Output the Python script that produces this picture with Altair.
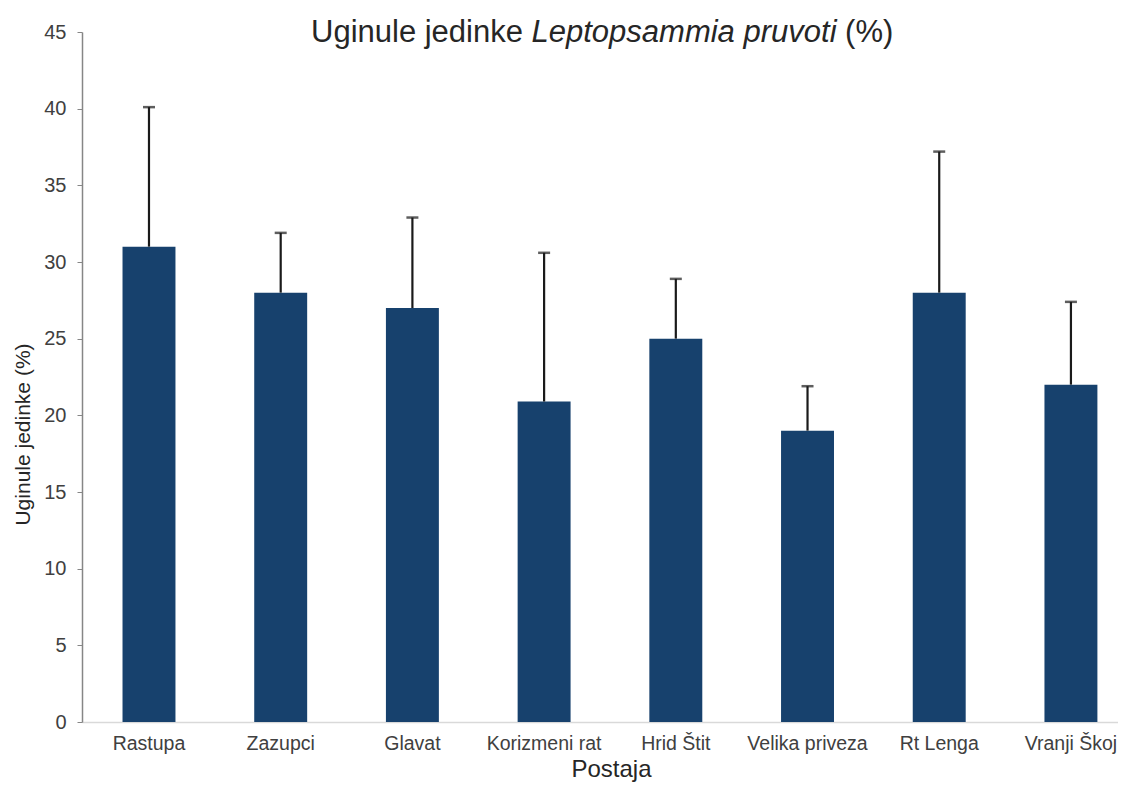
import altair as alt
import pandas as pd

stations = ["Rastupa", "Zazupci", "Glavat", "Korizmeni rat", "Hrid Štit",
            "Velika priveza", "Rt Lenga", "Vranji Škoj"]
means = [31.0, 28.0, 27.0, 20.9, 25.0, 19.0, 28.0, 22.0]
errors = [9.1, 3.9, 5.9, 9.7, 3.9, 2.9, 9.2, 5.4]
y_ticks = [0, 5, 10, 15, 20, 25, 30, 35, 40, 45]
title_normal = "Uginule jedinke"
title_italic = "Leptopsammia pruvoti"
title_end = "(%)"

df = pd.DataFrame({"Postaja": stations, "mean": means, "err": errors})
df["upper"] = df["mean"] + df["err"]

FONT = "Liberation Sans"
W, H = 1036, 690
BAR = "#17416d"
ERR = "#1a1a1a"

x_enc = alt.X(
    "Postaja:N", sort=stations,
    scale=alt.Scale(type="band", paddingInner=0.598, paddingOuter=0.232,
                    align=0.663, round=False),
    axis=alt.Axis(title="Postaja", labelAngle=0, ticks=False, labelPadding=12,
                  labelFontSize=19.5, labelFont=FONT, labelColor="#404040",
                  domainColor="#d9d9d9", domainWidth=1.5,
                  titleFont=FONT, titleFontSize=24, titleFontWeight="normal",
                  titleColor="#262626", titleX=529, titleY=54,
                  titleBaseline="alphabetic"),
)

y_enc = alt.Y(
    "mean:Q",
    scale=alt.Scale(domain=[0, 45], nice=False),
    axis=alt.Axis(values=y_ticks, title="Uginule jedinke (%)", grid=False,
                  tickSize=5, tickColor="#868686", domainColor="#868686",
                  domainWidth=1.5, labelPadding=11, labelFontSize=20,
                  labelFont=FONT, labelColor="#404040",
                  titleFont=FONT, titleFontSize=21, titleFontWeight="normal",
                  titleColor="#262626", titleX=-49, titleY=402),
)

bars = alt.Chart(df).mark_bar(color=BAR).encode(x=x_enc, y=y_enc)
rules = alt.Chart(df).mark_rule(color=ERR, strokeWidth=2.2).encode(
    x=alt.X("Postaja:N", sort=stations), y="mean:Q", y2="upper:Q")
caps = alt.Chart(df).mark_tick(color=ERR, thickness=2.5, size=12).encode(
    x=alt.X("Postaja:N", sort=stations), y="upper:Q")

TF = 31
em_normal = 7.114  # "Uginule jedinke " width in em (Arial metrics)
em_italic = 10.115  # "Leptopsammia pruvoti " width in em
x0 = 229
t1 = alt.Chart(pd.DataFrame({"t": [title_normal]})).mark_text(
    font=FONT, fontSize=TF, align="left", baseline="alphabetic", color="#262626"
).encode(text="t:N", x=alt.value(x0), y=alt.value(10))
t2 = alt.Chart(pd.DataFrame({"t": [title_italic]})).mark_text(
    font=FONT, fontSize=TF, fontStyle="italic", align="left",
    baseline="alphabetic", color="#262626"
).encode(text="t:N", x=alt.value(x0 + em_normal * TF), y=alt.value(10))
t3 = alt.Chart(pd.DataFrame({"t": [title_end]})).mark_text(
    font=FONT, fontSize=TF, align="left", baseline="alphabetic", color="#262626"
).encode(text="t:N", x=alt.value(x0 + (em_normal + em_italic) * TF),
         y=alt.value(10))

chart = alt.layer(bars, rules, caps, t1, t2, t3).properties(
    width=W, height=H, autosize="none",
    padding={"left": 74, "top": 24, "right": 0, "bottom": 60},
    background="white",
).configure_view(stroke=None)

chart.save("out.html", embed_options={"renderer": "svg", "actions": False})
